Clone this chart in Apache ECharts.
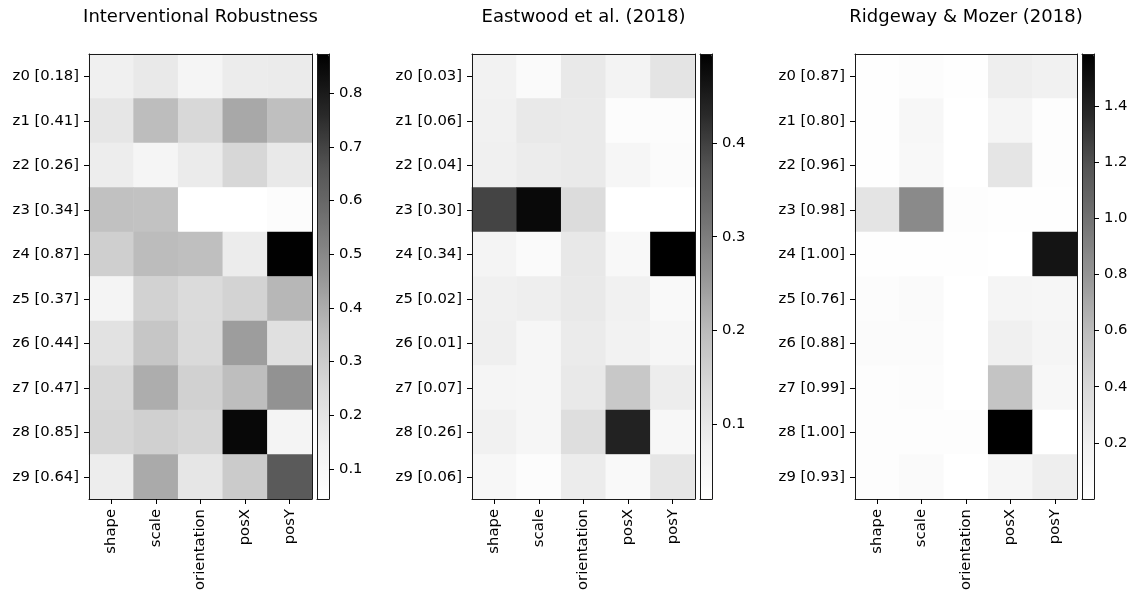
<!DOCTYPE html>
<html>
<head>
<meta charset="utf-8">
<script src="https://cdn.jsdelivr.net/npm/echarts@6/dist/echarts.min.js"></script>
<style>
html,body{margin:0;padding:0;background:#fff;}
#chart{width:1134px;height:596px;}
</style>
</head>
<body>
<div id="chart"></div>
<script>
// ---------- data ----------
const factors = ['shape', 'scale', 'orientation', 'posX', 'posY'];

const titles = ['Interventional Robustness', 'Eastwood et al. (2018)', 'Ridgeway & Mozer (2018)'];

const rowLabelsIR = ['z0 [0.18]', 'z1 [0.41]', 'z2 [0.26]', 'z3 [0.34]', 'z4 [0.87]', 'z5 [0.37]', 'z6 [0.44]', 'z7 [0.47]', 'z8 [0.85]', 'z9 [0.64]'];
const rowLabelsEW = ['z0 [0.03]', 'z1 [0.06]', 'z2 [0.04]', 'z3 [0.30]', 'z4 [0.34]', 'z5 [0.02]', 'z6 [0.01]', 'z7 [0.07]', 'z8 [0.26]', 'z9 [0.06]'];
const rowLabelsRM = ['z0 [0.87]', 'z1 [0.80]', 'z2 [0.96]', 'z3 [0.98]', 'z4 [1.00]', 'z5 [0.76]', 'z6 [0.88]', 'z7 [0.99]', 'z8 [1.00]', 'z9 [0.93]'];

// rows z0..z9, columns shape, scale, orientation, posX, posY
const valuesIR = [
  [0.148, 0.180, 0.113, 0.166, 0.170],
  [0.193, 0.355, 0.255, 0.410, 0.346],
  [0.160, 0.113, 0.170, 0.260, 0.179],
  [0.340, 0.335, 0.044, 0.044, 0.065],
  [0.290, 0.357, 0.349, 0.166, 0.870],
  [0.120, 0.277, 0.240, 0.274, 0.370],
  [0.210, 0.322, 0.247, 0.440, 0.218],
  [0.255, 0.397, 0.280, 0.351, 0.470],
  [0.262, 0.284, 0.262, 0.850, 0.120],
  [0.160, 0.405, 0.193, 0.303, 0.640]
];
const valuesEW = [
  [0.072, 0.039, 0.097, 0.067, 0.110],
  [0.075, 0.097, 0.095, 0.032, 0.032],
  [0.079, 0.090, 0.095, 0.056, 0.036],
  [0.395, 0.480, 0.130, 0.020, 0.020],
  [0.064, 0.039, 0.100, 0.048, 0.495],
  [0.079, 0.085, 0.097, 0.075, 0.044],
  [0.083, 0.056, 0.093, 0.072, 0.056],
  [0.059, 0.056, 0.097, 0.174, 0.087],
  [0.075, 0.056, 0.126, 0.440, 0.052],
  [0.052, 0.032, 0.090, 0.044, 0.105]
];
const valuesRM = [
  [0.010, 0.040, 0.010, 0.217, 0.185],
  [0.010, 0.106, 0.002, 0.132, 0.025],
  [0.010, 0.092, 0.002, 0.295, 0.025],
  [0.300, 0.860, 0.025, 0.010, 0.010],
  [0.010, 0.010, 0.010, 0.005, 1.480],
  [0.040, 0.070, 0.002, 0.132, 0.120],
  [0.050, 0.050, 0.002, 0.198, 0.132],
  [0.030, 0.040, 0.002, 0.547, 0.106],
  [0.020, 0.020, 0.020, 1.585, 0.000],
  [0.030, 0.060, 0.002, 0.120, 0.217]
];

// colorbar ranges and tick labels
const rangeIR = [0.044, 0.873];
const rangeEW = [0.020, 0.495];
const rangeRM = [0.000, 1.585];
const cbTicksIR = [0.1, 0.2, 0.3, 0.4, 0.5, 0.6, 0.7, 0.8];
const cbTicksEW = [0.1, 0.2, 0.3, 0.4];
const cbTicksRM = [0.2, 0.4, 0.6, 0.8, 1.0, 1.2, 1.4];

// matplotlib "Greys" colormap stops
const greys = ['#ffffff', '#f0f0f0', '#d9d9d9', '#bdbdbd', '#969696', '#737373', '#525252', '#252525', '#000000'];

// ---------- layout ----------
const panels = [
  { labels: rowLabelsIR, values: valuesIR, range: rangeIR, ticks: cbTicksIR, left: 89, width: 223, cbLeft: 317 },
  { labels: rowLabelsEW, values: valuesEW, range: rangeEW, ticks: cbTicksEW, left: 472, width: 223, cbLeft: 700 },
  { labels: rowLabelsRM, values: valuesRM, range: rangeRM, ticks: cbTicksRM, left: 855, width: 222, cbLeft: 1082 }
];
const TOP = 54, HEIGHT = 445, CBW = 12;
const FONT = 'DejaVu Sans';
const FS = 14.8;
const TICKLEN = 5, LABMARGIN = 10;
const lineStyle = { color: '#1a1a1a', width: 1 };

const option = {
  backgroundColor: '#ffffff',
  animation: false,
  textStyle: { fontFamily: FONT },
  title: [], grid: [], xAxis: [], yAxis: [], series: [], visualMap: []
};

panels.forEach((p, i) => {
  const g = i * 2;       // heatmap grid index
  const cg = i * 2 + 1;  // colorbar grid index
  option.title.push({
    text: titles[i],
    left: p.left + p.width / 2,
    top: 8,
    textAlign: 'center',
    padding: 0,
    textStyle: { fontFamily: FONT, fontSize: 18, fontWeight: 'normal', color: '#000' }
  });
  option.grid.push({ left: p.left, top: TOP, width: p.width, height: HEIGHT, containLabel: false });
  option.grid.push({ left: p.cbLeft, top: TOP, width: CBW, height: HEIGHT, containLabel: false });

  const xBase = option.xAxis.length;
  option.xAxis.push({
    type: 'category', gridIndex: g, data: factors, position: 'bottom',
    axisLine: { show: true, lineStyle }, z: 10,
    axisTick: { show: true, alignWithLabel: true, length: TICKLEN, lineStyle: { color: '#000' } },
    axisLabel: { rotate: 90, margin: LABMARGIN, fontFamily: FONT, fontSize: FS, color: '#000', interval: 0 },
    splitLine: { show: false }
  });
  option.xAxis.push({
    type: 'category', gridIndex: g, data: factors, position: 'top',
    axisLine: { show: true, lineStyle, onZero: false }, z: 10,
    axisTick: { show: false }, axisLabel: { show: false }, splitLine: { show: false }
  });
  option.xAxis.push({
    type: 'value', gridIndex: cg, min: 0, max: 1, position: 'bottom', z: 10,
    axisLine: { show: true, lineStyle, onZero: false }, axisTick: { show: false }, axisLabel: { show: false }, splitLine: { show: false }
  });
  option.xAxis.push({
    type: 'value', gridIndex: cg, min: 0, max: 1, position: 'top', z: 10,
    axisLine: { show: true, lineStyle, onZero: false }, axisTick: { show: false }, axisLabel: { show: false }, splitLine: { show: false }
  });

  const yBase = option.yAxis.length;
  option.yAxis.push({
    type: 'category', gridIndex: g, data: p.labels, inverse: true, position: 'left', z: 10,
    axisLine: { show: true, lineStyle },
    axisTick: { show: true, alignWithLabel: true, length: TICKLEN, lineStyle: { color: '#000' } },
    axisLabel: { margin: LABMARGIN, fontFamily: FONT, fontSize: FS, color: '#000', interval: 0 },
    splitLine: { show: false }
  });
  option.yAxis.push({
    type: 'category', gridIndex: g, data: p.labels, inverse: true, position: 'right', z: 10,
    axisLine: { show: true, lineStyle, onZero: false }, axisTick: { show: false }, axisLabel: { show: false }, splitLine: { show: false }
  });
  option.yAxis.push({
    type: 'value', gridIndex: cg, min: p.range[0], max: p.range[1], position: 'right', z: 10,
    axisLine: { show: true, lineStyle, onZero: false },
    axisTick: { show: true, length: TICKLEN, customValues: p.ticks, lineStyle: { color: '#000' } },
    axisLabel: { show: true, customValues: p.ticks, margin: LABMARGIN, fontFamily: FONT, fontSize: FS, color: '#000',
      formatter: v => v.toFixed(1) },
    splitLine: { show: false }
  });
  option.yAxis.push({
    type: 'value', gridIndex: cg, min: p.range[0], max: p.range[1], position: 'left', z: 10,
    axisLine: { show: true, lineStyle, onZero: false }, axisTick: { show: false }, axisLabel: { show: false }, splitLine: { show: false }
  });

  const data = [];
  p.values.forEach((row, r) => row.forEach((v, c) => data.push([c, r, v])));
  const sIdx = option.series.length;
  option.series.push({
    type: 'heatmap', xAxisIndex: xBase, yAxisIndex: yBase, data: data,
    itemStyle: { borderWidth: 0 }, emphasis: { disabled: true }, z: 2
  });

  option.visualMap.push({
    type: 'continuous', seriesIndex: sIdx, min: p.range[0], max: p.range[1],
    calculable: false, hoverLink: false, realtime: false,
    orient: 'vertical', left: p.cbLeft, top: TOP, padding: 0,
    itemWidth: CBW, itemHeight: HEIGHT, text: null, showLabel: false,
    inRange: { color: greys }, z: 3
  });
});

const chart = echarts.init(document.getElementById('chart'), null, { renderer: 'canvas' });
chart.setOption(option);
</script>
</body>
</html>
